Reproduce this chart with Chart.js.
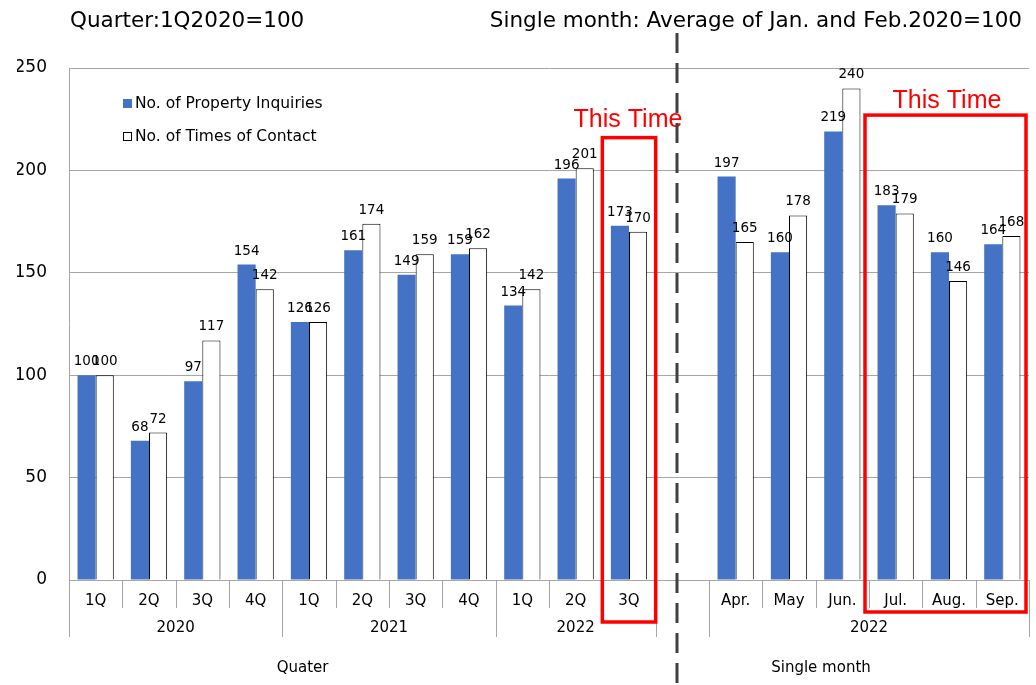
<!DOCTYPE html>
<html lang="en">
<head>
<meta charset="UTF-8">
<script src="https://cdn.jsdelivr.net/npm/chart.js"></script>
<style>
  body, html { margin: 0; padding: 0; background: #fff; }
  #chart { display: block; }
</style>
</head>
<body>
<canvas id="chart" width="1036" height="685"></canvas>
<script>
  // categories (blank one is the gap between quarters and months)
  const categories = ['1Q','2Q','3Q','4Q','1Q','2Q','3Q','4Q','1Q','2Q','3Q','','Apr.','May','Jun.','Jul.','Aug.','Sep.'];
  const inquiries = [100,68,97,154,126,161,149,159,134,196,173,null,197,160,219,183,160,164];
  const contacts  = [100,72,117,142,126,174,159,162,142,201,170,null,165,178,240,179,146,168];

  // second and third level of the x axis
  const yearLabels = ['2020','2021','2022','2022'];
  const yearSpans = [[0,4],[4,8],[8,11],[12,18]];
  const groupLabels = ['Quater','Single month'];

  const FONT = "'DejaVu Sans', Verdana, sans-serif";
  const GRID = '#a6a6a6';

  const extras = {
    id: 'extras',
    afterDatasetsDraw(chart) {
      const ctx = chart.ctx;
      ctx.save();
      ctx.fillStyle = '#000';
      ctx.font = '13.5px ' + FONT;
      ctx.textAlign = 'center';
      ctx.textBaseline = 'alphabetic';
      chart.data.datasets.forEach((ds, di) => {
        chart.getDatasetMeta(di).data.forEach((bar, i) => {
          if (ds.data[i] == null) return;
          ctx.fillText(String(ds.data[i]), bar.x, bar.y - 10);
        });
      });
      ctx.restore();
    },
    afterDraw(chart) {
      const ctx = chart.ctx;
      const x = chart.scales.x, y = chart.scales.y;
      const area = chart.chartArea;
      const cw = (x.right - x.left) / categories.length;
      const edge = k => x.left + k * cw;
      ctx.save();

      // titles
      ctx.fillStyle = '#000';
      ctx.font = '21.5px ' + FONT;
      ctx.textBaseline = 'alphabetic';
      ctx.textAlign = 'left';
      ctx.fillText('Quarter:1Q2020=100', 70, 27);
      ctx.textAlign = 'right';
      ctx.fillText('Single month: Average of Jan. and Feb.2020=100', 1022, 27);

      // legend
      ctx.textAlign = 'left';
      ctx.textBaseline = 'middle';
      ctx.font = '15.5px ' + FONT;
      ctx.fillStyle = '#4472c4';
      ctx.fillRect(123, 99, 9, 9);
      ctx.fillStyle = '#fff';
      ctx.strokeStyle = '#000';
      ctx.lineWidth = 1;
      ctx.fillRect(123, 132, 9, 9);
      ctx.strokeRect(123.5, 132.5, 8, 8);
      ctx.fillStyle = '#000';
      ctx.fillText('No. of Property Inquiries', 135, 104);
      ctx.fillText('No. of Times of Contact', 135, 137);

      // x axis separators
      const longEdges = [0,4,8,11,12,18];
      ctx.strokeStyle = GRID;
      ctx.lineWidth = 1;
      for (let k = 0; k <= categories.length; k++) {
        const px = Math.round(edge(k)) + 0.5;
        const isLong = longEdges.includes(k);
        ctx.beginPath();
        ctx.moveTo(px, area.bottom);
        ctx.lineTo(px, area.bottom + (isLong ? 57 : 28));
        ctx.stroke();
      }

      // year labels
      ctx.fillStyle = '#000';
      ctx.textAlign = 'center';
      ctx.textBaseline = 'middle';
      ctx.font = '15px ' + FONT;
      yearSpans.forEach((s, i) => {
        ctx.fillText(yearLabels[i], (edge(s[0]) + edge(s[1])) / 2, area.bottom + 48);
      });
      // group labels
      ctx.fillText(groupLabels[0], edge(4.38), area.bottom + 88);
      ctx.fillText(groupLabels[1], edge(14.1), area.bottom + 88);

      // red boxes
      ctx.strokeStyle = '#ff0000';
      ctx.lineWidth = 3.5;
      let top1 = y.getPixelForValue(216);
      ctx.strokeRect(edge(10), top1, cw, area.bottom + 42 - top1);
      let top2 = y.getPixelForValue(227);
      ctx.strokeRect(edge(15) - 4, top2, edge(18) - edge(15) + 1, area.bottom + 32 - top2);
      ctx.fillStyle = '#ff0000';
      ctx.font = "25px 'Liberation Sans', Arial, sans-serif";
      ctx.textBaseline = 'alphabetic';
      ctx.fillText('This Time', edge(10.5) - 1, 127);
      ctx.fillText('This Time', (edge(15) + edge(18)) / 2 - 2, 108);

      // dashed divider
      ctx.strokeStyle = '#404040';
      ctx.lineWidth = 3;
      ctx.setLineDash([20, 10]);
      ctx.beginPath();
      const dx = Math.round(edge(11.5)) - 5;
      ctx.moveTo(dx, 33);
      ctx.lineTo(dx, 685);
      ctx.stroke();
      ctx.restore();
    }
  };

  new Chart(document.getElementById('chart'), {
    type: 'bar',
    data: {
      labels: categories,
      datasets: [
        {
          label: 'No. of Property Inquiries',
          data: inquiries,
          backgroundColor: '#4472c4',
          borderWidth: 0
        },
        {
          label: 'No. of Times of Contact',
          data: contacts,
          backgroundColor: '#ffffff',
          borderColor: '#000000',
          borderWidth: 1
        }
      ]
    },
    options: {
      responsive: false,
      animation: false,
      devicePixelRatio: 1,
      layout: { padding: { top: 68, left: 17, right: 7, bottom: 75 } },
      datasets: { bar: { categoryPercentage: 0.68, barPercentage: 1 } },
      plugins: {
        legend: { display: false },
        tooltip: { enabled: false }
      },
      scales: {
        x: {
          grid: { display: false, drawTicks: false },
          border: { display: false },
          afterFit: s => { s.height = 30; },
          ticks: { color: '#000', font: { family: FONT, size: 15 }, padding: 12, autoSkip: false, maxRotation: 0 }
        },
        y: {
          min: 0,
          max: 250,
          afterFit: s => { s.width = 52; },
          ticks: { stepSize: 50, color: '#000', font: { family: FONT, size: 17 }, padding: 22 },
          grid: { color: GRID, drawTicks: false },
          border: { color: GRID }
        }
      }
    },
    plugins: [extras]
  });
</script>
</body>
</html>
